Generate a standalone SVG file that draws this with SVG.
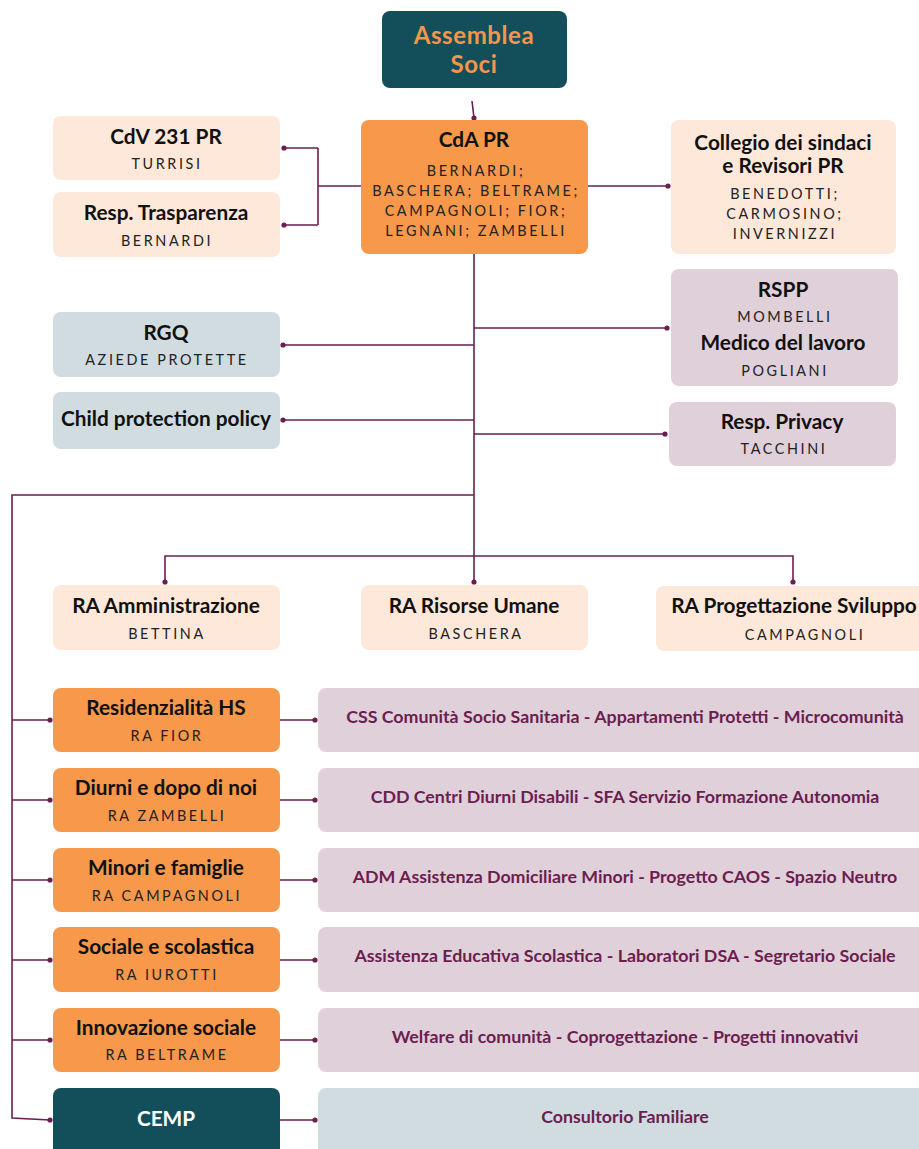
<svg xmlns="http://www.w3.org/2000/svg" width="919" height="1149" viewBox="0 0 919 1149">
<style>
.peach{fill:#fde8da}
.orange{fill:#f7984b}
.teal{fill:#134e5b}
.lilac{fill:#e0d0da}
.grey{fill:#d0dce0}
.t{font-family:Lato,"Liberation Sans",sans-serif;font-weight:bold;font-size:20.8px;fill:#111;text-anchor:middle}
.s{font-family:Lato,"Liberation Sans",sans-serif;font-size:14.4px;letter-spacing:2.6px;fill:#222;text-anchor:middle}
.p{font-family:Lato,"Liberation Sans",sans-serif;font-weight:bold;font-size:17.8px;fill:#6b1e4f;text-anchor:middle}
.ln{fill:none;stroke:#6b1f50;stroke-width:1.6}
.dot{fill:#6b1f50}
</style>
<rect width="919" height="1149" fill="#ffffff"/>
<g id="connectors">
<path class="ln" d="M472 101 L474 118"/>
<path class="ln" d="M361 186 H318 M318 148 V225 M318 148 H284 M318 225 H284"/>
<path class="ln" d="M588 186 H668"/>
<path class="ln" d="M474 254 V583"/>
<path class="ln" d="M474 328 H667 M474 434 H665"/>
<path class="ln" d="M474 345 H283 M474 420 H283"/>
<path class="ln" d="M474 495 H12 V1118 L50 1120"/>
<path class="ln" d="M165 582 V556 H793 V582"/>
<path class="ln" d="M12 720 H50 M12 800 H50 M12 880 H50 M12 960 H50 M12 1040 H50"/>
<path class="ln" d="M280 720 H315 M280 800 H315 M280 880 H315 M280 960 H315 M280 1040 H315 M280 1120 H315"/>
<g class="dot">
<circle cx="474" cy="118" r="2.6"/>
<circle cx="284" cy="148" r="2.6"/><circle cx="284" cy="225" r="2.6"/>
<circle cx="668" cy="186" r="2.6"/>
<circle cx="667" cy="328" r="2.6"/><circle cx="665" cy="434" r="2.6"/>
<circle cx="283" cy="345" r="2.6"/><circle cx="283" cy="420" r="2.6"/>
<circle cx="165" cy="582" r="2.6"/><circle cx="474" cy="582" r="2.6"/><circle cx="793" cy="582" r="2.6"/>
<circle cx="50" cy="720" r="2.6"/><circle cx="50" cy="800" r="2.6"/><circle cx="50" cy="880" r="2.6"/><circle cx="50" cy="960" r="2.6"/><circle cx="50" cy="1040" r="2.6"/><circle cx="50" cy="1120" r="2.6"/>
<circle cx="315" cy="720" r="2.6"/><circle cx="315" cy="800" r="2.6"/><circle cx="315" cy="880" r="2.6"/><circle cx="315" cy="960" r="2.6"/><circle cx="315" cy="1040" r="2.6"/><circle cx="315" cy="1120" r="2.6"/>
</g>
</g>
<g id="assemblea">
<rect class="teal" x="382" y="11" width="185" height="77" rx="8"/>
<text class="t" x="474" y="44" style="fill:#f5964a;font-size:24px;letter-spacing:0.6px">Assemblea</text>
<text class="t" x="474" y="73" style="fill:#f5964a;font-size:24px;letter-spacing:0.6px">Soci</text>
</g>
<g id="cda">
<rect class="orange" x="361" y="120" width="227" height="134" rx="8"/>
<text class="t" x="474" y="147">CdA PR</text>
<text class="s" x="476" y="176">BERNARDI;</text>
<text class="s" x="476" y="196">BASCHERA; BELTRAME;</text>
<text class="s" x="476" y="216">CAMPAGNOLI; FIOR;</text>
<text class="s" x="476" y="236">LEGNANI; ZAMBELLI</text>
</g>
<g id="cdv">
<rect class="peach" x="53" y="116" width="227" height="64" rx="8"/>
<text class="t" x="166" y="144">CdV 231 PR</text>
<text class="s" x="167" y="169">TURRISI</text>
</g>
<g id="trasparenza">
<rect class="peach" x="53" y="192" width="227" height="65" rx="8"/>
<text class="t" x="166" y="220">Resp. Trasparenza</text>
<text class="s" x="167" y="246">BERNARDI</text>
</g>
<g id="collegio">
<rect class="peach" x="671" y="120" width="225" height="134" rx="8"/>
<text class="t" x="783" y="150">Collegio dei sindaci</text>
<text class="t" x="783" y="173">e Revisori PR</text>
<text class="s" x="785" y="199">BENEDOTTI;</text>
<text class="s" x="785" y="219">CARMOSINO;</text>
<text class="s" x="785" y="239">INVERNIZZI</text>
</g>
<g id="rspp">
<rect class="lilac" x="671" y="269" width="227" height="117" rx="8"/>
<text class="t" x="783" y="297">RSPP</text>
<text class="s" x="785" y="322">MOMBELLI</text>
<text class="t" x="783" y="350">Medico del lavoro</text>
<text class="s" x="785" y="376">POGLIANI</text>
</g>
<g id="privacy">
<rect class="lilac" x="669" y="402" width="227" height="64" rx="8"/>
<text class="t" x="782" y="429">Resp. Privacy</text>
<text class="s" x="784" y="454">TACCHINI</text>
</g>
<g id="rgq">
<rect class="grey" x="53" y="312" width="227" height="65" rx="8"/>
<text class="t" x="166" y="340">RGQ</text>
<text class="s" x="167" y="365">AZIEDE PROTETTE</text>
</g>
<g id="child">
<rect class="grey" x="53" y="392" width="227" height="57" rx="8"/>
<text class="t" x="166" y="426">Child protection policy</text>
</g>
<g id="ra-amm">
<rect class="peach" x="53" y="585" width="227" height="65" rx="8"/>
<text class="t" x="166" y="613">RA Amministrazione</text>
<text class="s" x="167" y="639">BETTINA</text>
</g>
<g id="ra-ru">
<rect class="peach" x="361" y="585" width="227" height="65" rx="8"/>
<text class="t" x="474" y="613">RA Risorse Umane</text>
<text class="s" x="476" y="639">BASCHERA</text>
</g>
<g id="ra-prog">
<rect class="peach" x="656" y="586" width="275" height="65" rx="8"/>
<text class="t" x="794" y="613">RA Progettazione Sviluppo</text>
<text class="s" x="805" y="640">CAMPAGNOLI</text>
</g>
<g id="residenzialita">
<rect class="orange" x="53" y="688" width="227" height="64" rx="8"/>
<text class="t" x="166" y="715">Residenzialità HS</text>
<text class="s" x="167" y="741">RA FIOR</text>
</g>
<g id="diurni">
<rect class="orange" x="53" y="768" width="227" height="64" rx="8"/>
<text class="t" x="166" y="795">Diurni e dopo di noi</text>
<text class="s" x="167" y="821">RA ZAMBELLI</text>
</g>
<g id="minori">
<rect class="orange" x="53" y="848" width="227" height="64" rx="8"/>
<text class="t" x="166" y="875">Minori e famiglie</text>
<text class="s" x="167" y="901">RA CAMPAGNOLI</text>
</g>
<g id="sociale">
<rect class="orange" x="53" y="927" width="227" height="65" rx="8"/>
<text class="t" x="166" y="954">Sociale e scolastica</text>
<text class="s" x="167" y="980">RA IUROTTI</text>
</g>
<g id="innovazione">
<rect class="orange" x="53" y="1008" width="227" height="64" rx="8"/>
<text class="t" x="166" y="1035">Innovazione sociale</text>
<text class="s" x="167" y="1060">RA BELTRAME</text>
</g>
<g id="cemp">
<rect class="teal" x="53" y="1088" width="227" height="70" rx="8"/>
<text class="t" x="166" y="1126" style="fill:#ffffff">CEMP</text>
</g>
<g id="css">
<rect class="lilac" x="318" y="688" width="620" height="64" rx="8"/>
<text class="p" x="625" y="723">CSS Comunità Socio Sanitaria - Appartamenti Protetti - Microcomunità</text>
</g>
<g id="cdd">
<rect class="lilac" x="318" y="768" width="620" height="64" rx="8"/>
<text class="p" x="625" y="803">CDD Centri Diurni Disabili - SFA Servizio Formazione Autonomia</text>
</g>
<g id="adm">
<rect class="lilac" x="318" y="848" width="620" height="64" rx="8"/>
<text class="p" x="625" y="883">ADM Assistenza Domiciliare Minori - Progetto CAOS - Spazio Neutro</text>
</g>
<g id="aes">
<rect class="lilac" x="318" y="927" width="620" height="65" rx="8"/>
<text class="p" x="625" y="962">Assistenza Educativa Scolastica - Laboratori DSA - Segretario Sociale</text>
</g>
<g id="welfare">
<rect class="lilac" x="318" y="1008" width="620" height="64" rx="8"/>
<text class="p" x="625" y="1043">Welfare di comunità - Coprogettazione - Progetti innovativi</text>
</g>
<g id="consultorio">
<rect class="grey" x="318" y="1088" width="620" height="70" rx="8"/>
<text class="p" x="625" y="1123">Consultorio Familiare</text>
</g>
</svg>
